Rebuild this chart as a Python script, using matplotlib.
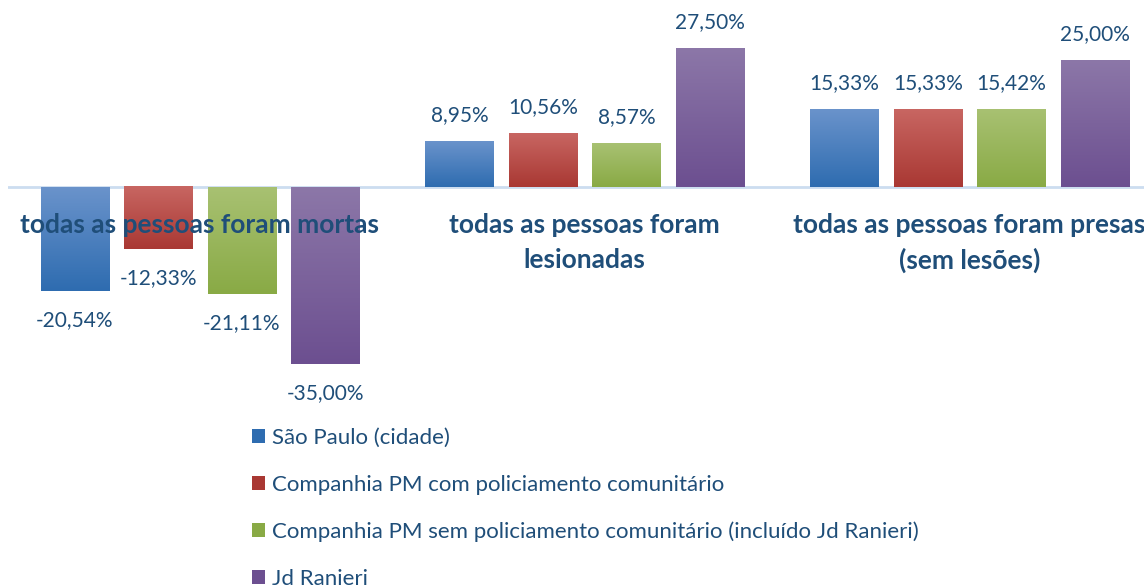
import numpy as np
import matplotlib.pyplot as plt
from matplotlib.colors import LinearSegmentedColormap
from matplotlib.patches import Patch

plt.rcParams['font.family'] = ['Lato', 'DejaVu Sans']

categories = ["todas as pessoas foram mortas",
              "todas as pessoas foram\nlesionadas",
              "todas as pessoas foram presas\n(sem lesões)"]
series_names = ["São Paulo (cidade)",
                "Companhia PM com policiamento comunitário",
                "Companhia PM sem policiamento comunitário (incluído Jd Ranieri)",
                "Jd Ranieri"]
sao_paulo = [-20.54, 8.95, 15.33]
pm_com = [-12.33, 10.56, 15.33]
pm_sem = [-21.11, 8.57, 15.42]
jd_ranieri = [-35.00, 27.50, 25.00]
values = [sao_paulo, pm_com, pm_sem, jd_ranieri]

# (top colour, bottom colour) of each series' vertical gradient
gradients = [("#6A93CB", "#2E6CB0"),
             ("#C86662", "#A93833"),
             ("#A8C172", "#89AA45"),
             ("#8C77A8", "#6C4F90")]
text_color = "#1F4E79"

fig = plt.figure(figsize=(11.44, 5.85), dpi=100)
ax = fig.add_axes([7.5 / 1144, 1 - 389 / 585, 1154.5 / 1144, (389 - 35.5) / 585])
ax.set_xlim(-0.5, 2.5)
ax.set_ylim(-40, 30)
ax.axis('off')

x = np.arange(len(categories))
step = 0.217
width = 0.177
grad = np.linspace(0, 1, 256).reshape(-1, 1)

for i, (vals, (c_top, c_bot)) in enumerate(zip(values, gradients)):
    offs = (i - 1.5) * step
    bars = ax.bar(x + offs, vals, width, color=c_bot, zorder=2)
    cmap = LinearSegmentedColormap.from_list(f"g{i}", [c_top, c_bot])
    for b, v in zip(bars, vals):
        x0, y0 = b.get_x(), b.get_y()
        w, h = b.get_width(), b.get_height()
        ylo, yhi = min(y0, y0 + h), max(y0, y0 + h)
        ax.imshow(grad, extent=(x0, x0 + w, ylo, yhi), origin='upper',
                  cmap=cmap, aspect='auto', zorder=2.5, interpolation='bicubic')
        lbl = f"{v:.2f}%".replace('.', ',')
        ax.annotate(lbl, (x0 + w / 2, v), xytext=(0, 19 if v >= 0 else -21),
                    textcoords='offset points', ha='center', va='center',
                    fontsize=15, color=text_color, zorder=4)

ax.set_xlim(-0.5, 2.5)
ax.set_ylim(-40, 30)
ax.axhline(0, color="#CCDDF0", lw=2, zorder=1)

for xi, cat in zip(x, categories):
    ax.text(xi, -5.1, cat, ha='center', va='top', fontsize=19, fontweight='bold',
            color=text_color, zorder=5, linespacing=1.54)

handles = [Patch(facecolor=g[1], edgecolor='none') for g in gradients]
fig.legend(handles, series_names, loc='upper left',
           bbox_to_anchor=(252 / 1144, 1 - 428 / 585), frameon=False,
           fontsize=16, labelcolor=text_color, handlelength=0.6, handleheight=0.6,
           handletextpad=0.3, labelspacing=1.2, borderaxespad=0, borderpad=0)

fig.savefig("out.png", dpi=100)
